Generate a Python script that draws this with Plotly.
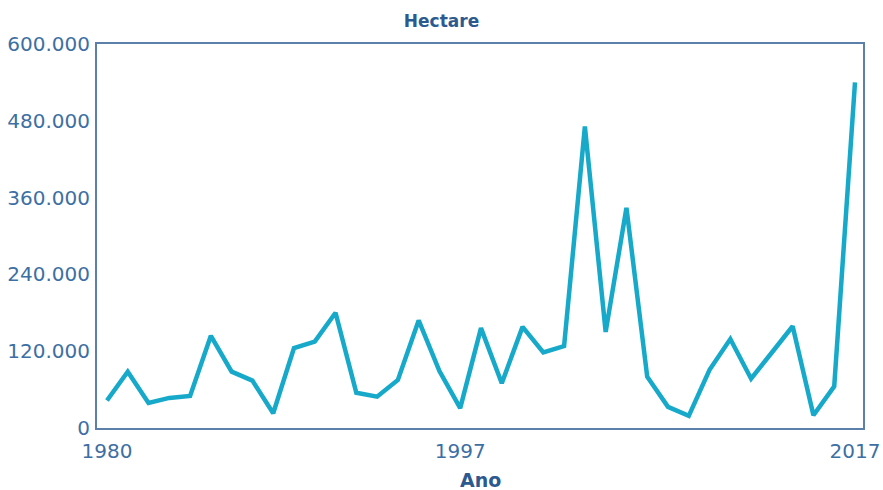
import plotly.graph_objects as go

# 37 annual observations (one year is absent in the source series)
anos = [1980, 1981, 1982, 1983, 1984, 1985, 1986, 1987, 1988, 1989,
        1990, 1991, 1992, 1993, 1994, 1995, 1996, 1997,
        1999, 2000, 2001, 2002, 2003, 2004, 2005, 2006, 2007, 2008,
        2009, 2010, 2011, 2012, 2013, 2014, 2015, 2016, 2017]
hectare = [43000, 88000, 39000, 47000, 50000, 144000, 88000, 74000, 23000, 125000,
           135000, 180000, 55000, 49000, 75000, 168000, 89000, 31000,
           156000, 70000, 158000, 118000, 128000, 471000, 150000, 344000, 80000, 33000,
           19000, 91000, 139000, 77000, 118000, 159000, 20000, 65000, 540000]

x_ticks = ["1980", "1997", "2017"]
y_ticks = [0, 120000, 240000, 360000, 480000, 600000]
y_tick_text = ["0", "120.000", "240.000", "360.000", "480.000", "600.000"]

cats = [str(a) for a in anos]

font_family = "DejaVu Sans, Verdana, sans-serif"
tick_color = "#3d6fa3"
axis_color = "#5b80aa"
title_color = "#2d5a8e"

fig = go.Figure()
fig.add_trace(go.Scatter(
    x=cats, y=hectare, mode="lines",
    line=dict(color="#17a9c9", width=4.5),
    hoverinfo="x+y",
))

fig.update_layout(
    width=883, height=490,
    margin=dict(l=97, r=20, t=44, b=62, autoexpand=False),
    paper_bgcolor="white", plot_bgcolor="white",
    showlegend=False,
    title=dict(text="<b>Hectare</b>", x=0.5, xanchor="center", y=0.958, yanchor="middle",
               font=dict(family=font_family, size=17, color=title_color)),
    font=dict(family=font_family),
    annotations=[dict(
        text="<b>Ano</b>", xref="paper", yref="paper", x=0.5, y=-0.136,
        xanchor="center", yanchor="middle", showarrow=False,
        font=dict(family=font_family, size=19, color=title_color),
    )],
)
fig.update_xaxes(
    type="category", automargin=False,
    categoryorder="array", categoryarray=cats,
    range=[-0.48, len(cats) - 1 + 0.385],
    tickmode="array", tickvals=x_ticks, ticktext=x_ticks,
    showgrid=False, zeroline=False,
    showline=True, linecolor=axis_color, linewidth=2, mirror=True,
    ticks="", ticklen=0, ticklabelstandoff=4,
    tickfont=dict(family=font_family, size=20, color=tick_color),
)
fig.update_yaxes(
    range=[0, 600000], automargin=False,
    tickmode="array", tickvals=y_ticks, ticktext=y_tick_text,
    showgrid=False, zeroline=False,
    showline=True, linecolor=axis_color, linewidth=2, mirror=True,
    ticks="", ticklen=0, ticklabelstandoff=1,
    tickfont=dict(family=font_family, size=20, color=tick_color),
)

fig.write_html("out.html", config={"displayModeBar": False},
               post_script="document.body.style.margin='0';")
